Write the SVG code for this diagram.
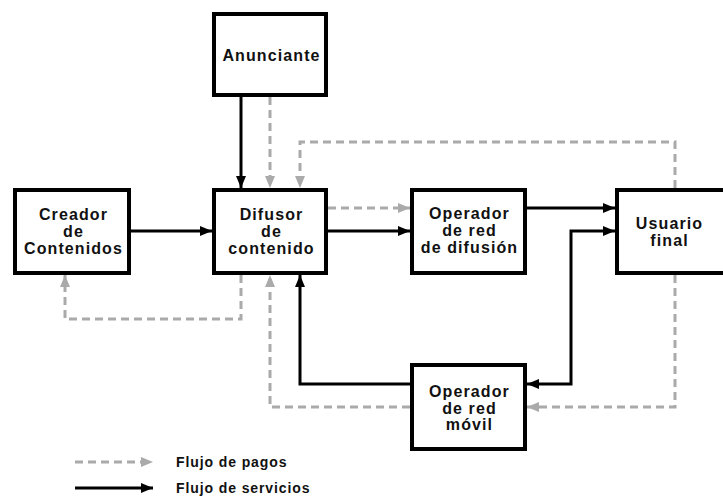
<svg xmlns="http://www.w3.org/2000/svg" width="723" height="496" viewBox="0 0 723 496">
<style>
.box{fill:#fff;stroke:#000;stroke-width:4}
.t{font-family:"Liberation Sans",Arial,sans-serif;font-weight:bold;font-size:16px;letter-spacing:1.1px;text-anchor:middle;fill:#111}
.lg{font-family:"Liberation Sans",Arial,sans-serif;font-weight:bold;font-size:14px;letter-spacing:0.9px;fill:#111}
.s{fill:none;stroke:#000;stroke-width:3}
.p{fill:none;stroke:#aaa;stroke-width:3;stroke-dasharray:8 5}
</style>
<defs>
<marker id="ab" markerUnits="userSpaceOnUse" markerWidth="12" markerHeight="10" refX="12" refY="5" orient="auto-start-reverse"><path d="M0,0 L12,5 L0,10 z" fill="#000"/></marker>
<marker id="ag" markerUnits="userSpaceOnUse" markerWidth="12" markerHeight="10" refX="12" refY="5" orient="auto"><path d="M0,0 L12,5 L0,10 z" fill="#aaa"/></marker>
</defs>
<rect width="723" height="496" fill="#fff"/>
<g id="connectors">
<path class="s" d="M131,231 H212" marker-end="url(#ab)"/>
<path class="s" d="M241,97 V188" marker-end="url(#ab)"/>
<path class="s" d="M328,231 H410" marker-end="url(#ab)"/>
<path class="s" d="M527,208 H615" marker-end="url(#ab)"/>
<path class="s" d="M527,384 H571 V231 H615" marker-start="url(#ab)" marker-end="url(#ab)"/>
<path class="s" d="M410,384 H300 V275" marker-end="url(#ab)"/>
<path class="p" d="M270,97 V188" marker-end="url(#ag)"/>
<path class="p" d="M675,188 V142 H300 V188" marker-end="url(#ag)"/>
<path class="p" d="M328,208 H410" marker-end="url(#ag)"/>
<path class="p" d="M241,275 V319 H65 V275" marker-end="url(#ag)"/>
<path class="p" d="M675,275 V407 H527" marker-end="url(#ag)"/>
<path class="p" d="M410,407 H270 V275" marker-end="url(#ag)"/>
</g>
<g id="anunciante">
<rect class="box" x="214" y="14" width="112" height="81"/>
<text class="t" x="271.5" y="61">Anunciante</text>
</g>
<g id="creador">
<rect class="box" x="15" y="190" width="114" height="83"/>
<text class="t" x="73.5" y="220">Creador</text>
<text class="t" x="73.5" y="237">de</text>
<text class="t" x="73.5" y="254">Contenidos</text>
</g>
<g id="difusor">
<rect class="box" x="214" y="190" width="112" height="83"/>
<text class="t" x="271.5" y="220">Difusor</text>
<text class="t" x="271.5" y="237">de</text>
<text class="t" x="271.5" y="254">contenido</text>
</g>
<g id="operador-difusion">
<rect class="box" x="412" y="190" width="113" height="83"/>
<text class="t" x="469.5" y="219">Operador</text>
<text class="t" x="469.5" y="236">de red</text>
<text class="t" x="469.5" y="253">de difusión</text>
</g>
<g id="usuario">
<rect class="box" x="617" y="190" width="113" height="83"/>
<text class="t" x="669.5" y="229">Usuario</text>
<text class="t" x="669.5" y="246">final</text>
</g>
<g id="operador-movil">
<rect class="box" x="412" y="365" width="113" height="84"/>
<text class="t" x="469.5" y="397">Operador</text>
<text class="t" x="469.5" y="413.5">de red</text>
<text class="t" x="469.5" y="430">móvil</text>
</g>
<g id="legend">
<path class="p" d="M75,462 H153" marker-end="url(#ag)"/>
<path class="s" d="M75,488 H153" marker-end="url(#ab)"/>
<text class="lg" x="176" y="467">Flujo de pagos</text>
<text class="lg" x="176" y="493">Flujo de servicios</text>
</g>
</svg>
